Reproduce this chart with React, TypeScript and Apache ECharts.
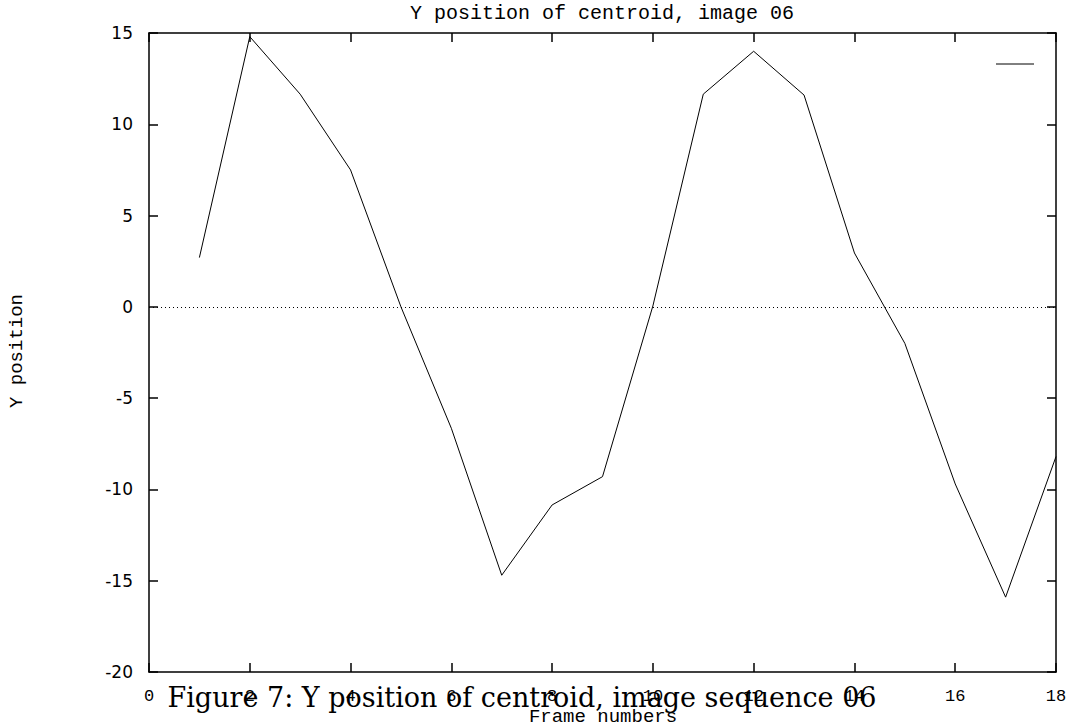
import React, { useEffect, useRef } from "react";
import * as echarts from "echarts";

const frames = [1, 2, 3, 4, 5, 6, 7, 8, 9, 10, 11, 12, 13, 14, 15, 16, 17, 18];
const yPosition = [2.7, 14.8, 11.65, 7.5, 0.0, -6.65, -14.7, -10.85, -9.3, 0.05, 11.65, 14.0, 11.6, 2.95, -2.0, -9.7, -15.9, -8.2];
const xTicks = { min: 0, max: 18, interval: 2 };
const yTicks = { min: -20, max: 15, interval: 5 };
const titleText = "Y position of centroid, image 06";
const xLabel = "Frame numbers";
const yLabel = "Y position";
const caption = "Figure 7: Y position of centroid, image sequence 06";

export default function App() {
  const ref = useRef<HTMLDivElement>(null);
  useEffect(() => {
    if (!ref.current) return;
    const chart = echarts.init(ref.current, null, { renderer: "svg" });
    const mono = "Liberation Mono";
    const axisLine = { show: true, onZero: false, lineStyle: { color: "#000", width: 1.5 } };
    const tick = { show: true, inside: true, length: 9, lineStyle: { color: "#000", width: 1.5 } };
    chart.setOption({
      animation: false,
      backgroundColor: "#fff",
      grid: { left: 149, right: 16, top: 33, bottom: 55, containLabel: false },
      xAxis: [
        {
          type: "value",
          min: xTicks.min,
          max: xTicks.max,
          interval: xTicks.interval,
          position: "bottom",
          axisLine,
          axisTick: tick,
          splitLine: { show: false },
          axisLabel: { fontFamily: mono, fontSize: 17, color: "#000", margin: 16 },
        },
        {
          type: "value",
          min: xTicks.min,
          max: xTicks.max,
          interval: xTicks.interval,
          position: "top",
          axisLine,
          axisTick: tick,
          splitLine: { show: false },
          axisLabel: { show: false },
        },
      ],
      yAxis: [
        {
          type: "value",
          min: yTicks.min,
          max: yTicks.max,
          interval: yTicks.interval,
          position: "left",
          axisLine,
          axisTick: tick,
          splitLine: { show: false },
          axisLabel: { fontFamily: "DejaVu Sans", fontSize: 17, color: "#000", margin: 16 },
        },
        {
          type: "value",
          min: yTicks.min,
          max: yTicks.max,
          interval: yTicks.interval,
          position: "right",
          axisLine,
          axisTick: tick,
          splitLine: { show: false },
          axisLabel: { show: false },
        },
      ],
      series: [
        {
          type: "line",
          data: frames.map((f, i) => [f, yPosition[i]]),
          showSymbol: false,
          lineStyle: { color: "#000", width: 1 },
          itemStyle: { color: "#000" },
          markLine: {
            silent: true,
            symbol: "none",
            label: { show: false },
            lineStyle: { color: "#000", type: [1, 3], width: 1 },
            data: [{ yAxis: 0 }],
          },
        },
      ],
      graphic: [
        {
          type: "text",
          x: 602,
          y: 13,
          style: { text: titleText, fontFamily: mono, fontSize: 20, fill: "#000", align: "center", verticalAlign: "middle" },
        },
        {
          type: "text",
          x: 603,
          y: 717,
          style: { text: xLabel, fontFamily: mono, fontSize: 19, fill: "#000", align: "center", verticalAlign: "middle" },
        },
        {
          type: "text",
          x: 17,
          y: 351,
          rotation: Math.PI / 2,
          style: { text: yLabel, fontFamily: mono, fontSize: 19, fill: "#000", align: "center", verticalAlign: "middle" },
        },
        {
          type: "line",
          shape: { x1: 996, y1: 64, x2: 1034, y2: 64 },
          style: { stroke: "#000", lineWidth: 1 },
        },
        {
          type: "text",
          x: 522,
          y: 697,
          style: { text: caption, fontFamily: "DejaVu Serif", fontSize: 27, fill: "#000", align: "center", verticalAlign: "middle" },
        },
      ],
    });
    return () => chart.dispose();
  }, []);
  return <div ref={ref} style={{ width: 1072, height: 727, position: "absolute", left: 0, top: 0 }} />;
}
